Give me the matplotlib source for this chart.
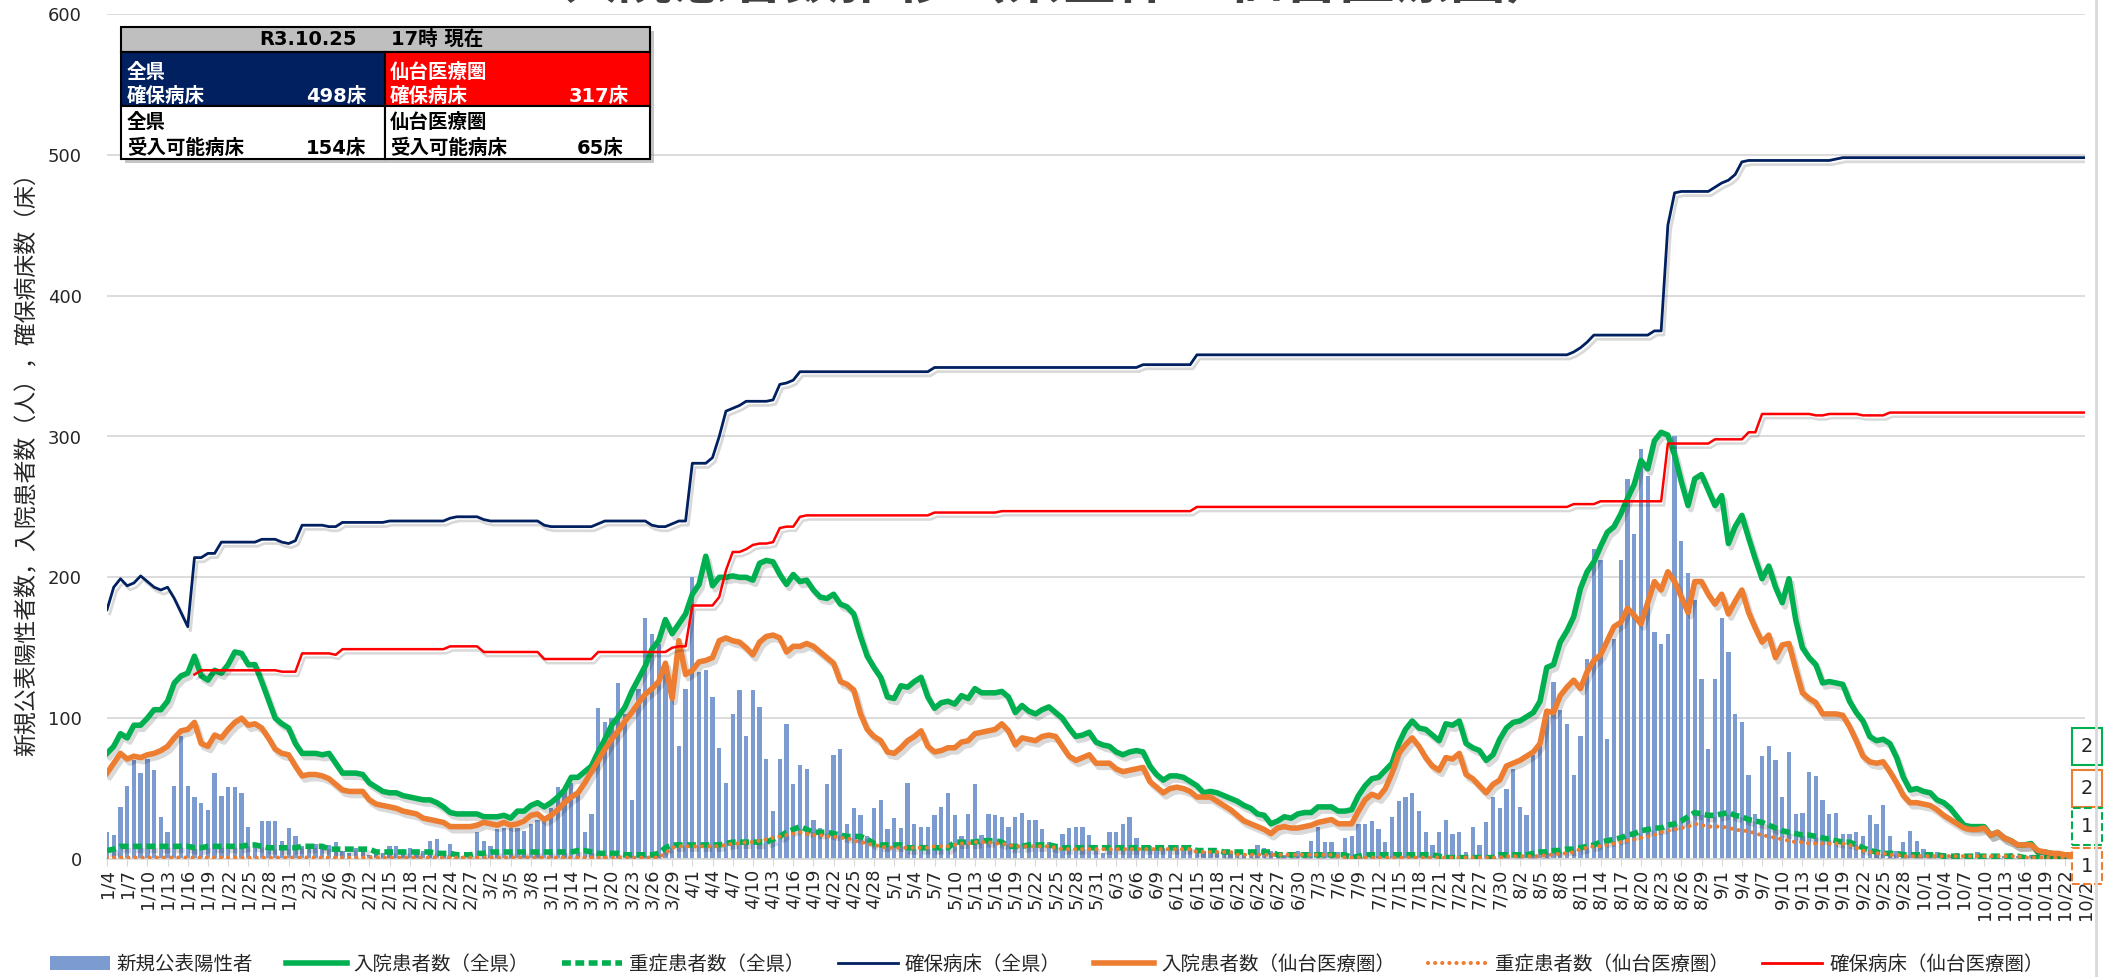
import numpy as np
import pandas as pd
import matplotlib
matplotlib.use("Agg")
import matplotlib.pyplot as plt
import matplotlib.patheffects as pe
from matplotlib.patches import Rectangle, Patch
from matplotlib.lines import Line2D

plt.rcParams['font.family'] = ['DejaVu Sans', 'Noto Sans CJK JP']
JP = ['Noto Sans CJK JP', 'DejaVu Sans']
MIX = ['DejaVu Sans', 'Noto Sans CJK JP']

# ---- data (daily, 2021/1/4 - 2021/10/25) ----
dates = pd.date_range('2021-01-04', '2021-10-25', freq='D')

new_cases = [
    19, 17, 37, 52, 70, 61, 71, 63, 30, 19,
    52, 87, 52, 44, 40, 35, 61, 45, 51, 51,
    47, 23, 11, 27, 27, 27, 13, 22, 16, 9,
    8, 11, 10, 10, 12, 6, 4, 8, 6, 3,
    5, 4, 9, 9, 5, 8, 4, 6, 13, 14,
    6, 11, 3, 2, 2, 19, 13, 9, 21, 22,
    22, 22, 20, 25, 28, 29, 36, 51, 49, 54,
    47, 19, 32, 107, 97, 100, 125, 103, 42, 121,
    171, 160, 153, 136, 115, 80, 121, 200, 133, 134,
    115, 79, 54, 103, 120, 87, 120, 108, 71, 34,
    71, 96, 53, 67, 64, 28, 22, 53, 74, 78,
    25, 36, 31, 16, 36, 42, 21, 29, 22, 54,
    25, 23, 23, 31, 37, 47, 31, 16, 32, 53,
    17, 32, 31, 30, 23, 30, 33, 28, 28, 21,
    12, 9, 18, 22, 23, 23, 17, 10, 4, 19,
    19, 25, 30, 15, 10, 9, 8, 8, 10, 10,
    10, 8, 6, 6, 5, 4, 5, 4, 4, 3,
    4, 10, 8, 6, 3, 3, 5, 6, 4, 13,
    23, 12, 12, 5, 15, 16, 25, 25, 27, 21,
    12, 30, 41, 44, 47, 34, 19, 10, 19, 28,
    18, 19, 5, 23, 10, 26, 44, 36, 50, 64,
    37, 31, 74, 80, 103, 126, 106, 96, 60, 87,
    142, 220, 212, 85, 156, 212, 270, 231, 291, 272,
    161, 153, 160, 300, 226, 203, 184, 128, 78, 128,
    171, 147, 103, 97, 60, 32, 73, 80, 70, 44,
    76, 32, 33, 62, 59, 42, 32, 33, 18, 18,
    19, 16, 31, 25, 38, 16, 6, 12, 20, 13,
    7, 4, 5, 4, 3, 4, 3, 2, 5, 3,
    2, 3, 2, 4, 2, 2, 3, 2, 1, 2,
    2, 1, 3, 1, 5,
]

inpatients_pref = [
    75, 80, 89, 86, 95, 95, 100, 106, 106, 112,
    125, 130, 132, 144, 130, 127, 134, 132, 138, 147,
    146, 138, 138, 126, 113, 100, 96, 93, 82, 75,
    75, 75, 74, 75, 68, 61, 61, 61, 60, 54,
    51, 48, 47, 47, 45, 44, 43, 42, 42, 40,
    37, 33, 32, 32, 32, 32, 30, 30, 30, 31,
    29, 34, 34, 38, 40, 37, 40, 44, 49, 58,
    58, 62, 66, 76, 85, 95, 101, 108, 119, 128,
    137, 149, 155, 170, 160, 167, 174, 188, 195, 215,
    194, 200, 200, 201, 200, 200, 198, 210, 212, 211,
    202, 195, 202, 197, 198, 191, 186, 185, 188, 181,
    179, 174, 158, 144, 136, 129, 115, 114, 123, 122,
    126, 129, 115, 107, 111, 112, 110, 116, 114, 121,
    118, 118, 118, 119, 115, 104, 109, 105, 103, 106,
    108, 104, 100, 93, 87, 88, 90, 83, 81, 80,
    76, 74, 76, 77, 76, 66, 60, 56, 59, 59,
    58, 55, 52, 47, 48, 47, 45, 43, 41, 38,
    36, 32, 31, 25, 27, 30, 29, 32, 33, 33,
    37, 37, 37, 34, 34, 35, 45, 52, 57, 58,
    63, 68, 82, 92, 98, 93, 92, 88, 84, 96,
    95, 98, 82, 79, 77, 70, 74, 85, 93, 97,
    98, 101, 104, 112, 136, 138, 154, 162, 172, 192,
    204, 211, 222, 232, 236, 245, 256, 266, 283, 277,
    297, 303, 301, 287, 268, 251, 270, 273, 262, 251,
    258, 224, 236, 244, 228, 213, 199, 208, 193, 182,
    199, 170, 150, 143, 138, 125, 126, 125, 124, 112,
    104, 98, 87, 84, 85, 82, 72, 58, 49, 50,
    48, 47, 42, 40, 36, 30, 24, 23, 23, 23,
    17, 19, 15, 13, 10, 10, 11, 5, 5, 4,
    3, 3, 3, 2, 2,
]

severe_pref = [
    6, 7, 9, 9, 9, 9, 9, 9, 9, 9,
    9, 9, 9, 8, 8, 9, 9, 9, 9, 9,
    9, 10, 10, 9, 8, 8, 8, 8, 8, 9,
    9, 9, 9, 7, 7, 7, 7, 7, 7, 7,
    5, 5, 5, 5, 5, 5, 5, 5, 5, 4,
    4, 4, 3, 3, 3, 4, 4, 5, 5, 5,
    5, 5, 5, 5, 5, 5, 5, 5, 5, 5,
    6, 6, 5, 4, 4, 4, 4, 3, 3, 3,
    3, 3, 4, 8, 10, 10, 10, 10, 10, 10,
    10, 10, 11, 12, 12, 12, 12, 12, 12, 14,
    16, 19, 21, 23, 21, 19, 19, 19, 18, 17,
    16, 16, 16, 14, 11, 10, 10, 10, 10, 8,
    8, 8, 8, 8, 8, 8, 12, 12, 12, 12,
    13, 13, 13, 12, 9, 9, 9, 10, 10, 10,
    10, 9, 8, 8, 8, 8, 8, 8, 8, 8,
    8, 8, 8, 8, 8, 8, 8, 8, 8, 8,
    8, 8, 6, 6, 6, 6, 5, 5, 5, 5,
    5, 5, 5, 5, 3, 3, 3, 3, 3, 3,
    3, 3, 3, 3, 3, 1, 2, 3, 3, 3,
    3, 3, 3, 3, 3, 3, 3, 3, 2, 1,
    1, 1, 1, 1, 1, 1, 1, 3, 3, 3,
    3, 3, 4, 5, 5, 6, 6, 7, 7, 8,
    9, 10, 12, 13, 14, 15, 17, 18, 20, 21,
    22, 22, 24, 25, 27, 30, 33, 32, 31, 31,
    32, 33, 31, 30, 28, 27, 26, 24, 22, 20,
    19, 18, 17, 17, 16, 15, 14, 13, 12, 12,
    10, 8, 6, 5, 4, 4, 4, 3, 3, 3,
    3, 3, 3, 2, 2, 2, 2, 2, 2, 2,
    2, 2, 2, 2, 2, 1, 1, 1, 1, 1,
    1, 1, 1, 1, 1,
]

inpatients_sendai = [
    61, 68, 75, 71, 73, 72, 74, 75, 77, 80,
    86, 91, 92, 97, 82, 80, 88, 86, 92, 97,
    100, 95, 96, 93, 86, 78, 75, 74, 66, 59,
    60, 60, 59, 57, 53, 49, 48, 48, 48, 42,
    39, 38, 37, 36, 34, 33, 32, 29, 28, 27,
    26, 23, 23, 23, 23, 24, 26, 25, 24, 26,
    24, 25, 27, 31, 32, 28, 31, 35, 40, 44,
    47, 54, 62, 70, 78, 85, 91, 98, 104, 111,
    117, 121, 126, 139, 114, 155, 131, 134, 140, 141,
    143, 155, 157, 155, 154, 150, 145, 154, 158, 159,
    157, 147, 151, 151, 153, 151, 147, 143, 139, 126,
    124, 120, 103, 92, 87, 84, 76, 75, 79, 84,
    87, 91, 80, 76, 77, 79, 79, 83, 84, 89,
    90, 91, 92, 96, 91, 81, 86, 85, 84, 87,
    88, 87, 80, 73, 70, 72, 74, 68, 68, 68,
    64, 62, 63, 64, 65, 55, 51, 47, 50, 51,
    50, 48, 44, 44, 44, 41, 38, 35, 31, 27,
    25, 23, 21, 18, 22, 23, 22, 22, 23, 24,
    26, 27, 28, 25, 25, 25, 34, 42, 46, 44,
    50, 61, 75, 81, 86, 80, 72, 66, 63, 72,
    71, 75, 60, 57, 52, 47, 53, 56, 66, 68,
    70, 73, 76, 82, 105, 104, 116, 122, 127, 121,
    133, 141, 145, 155, 165, 168, 178, 173, 167, 182,
    197, 191, 204, 197, 186, 175, 197, 197, 188, 181,
    188, 174, 183, 191, 175, 164, 154, 159, 143, 152,
    153, 135, 118, 114, 111, 103, 103, 103, 102, 94,
    84, 73, 69, 68, 69, 62, 54, 45, 40, 40,
    39, 38, 35, 31, 28, 25, 22, 21, 21, 22,
    17, 19, 15, 13, 10, 10, 10, 6, 5, 4,
    4, 3, 3, 2, 2,
]

severe_sendai = [
    1, 1, 1, 1, 1, 1, 1, 1, 1, 1,
    1, 1, 1, 1, 1, 1, 1, 1, 1, 1,
    1, 1, 1, 1, 1, 1, 1, 1, 1, 1,
    1, 1, 1, 1, 1, 1, 1, 1, 1, 1,
    1, 1, 1, 1, 1, 1, 1, 1, 1, 1,
    1, 1, 1, 1, 1, 1, 1, 1, 1, 1,
    1, 1, 1, 1, 1, 1, 1, 1, 1, 1,
    1, 1, 1, 1, 1, 1, 1, 1, 1, 1,
    1, 1, 1, 4, 8, 9, 9, 9, 9, 9,
    9, 9, 10, 11, 11, 12, 12, 13, 14, 15,
    16, 17, 18, 19, 18, 17, 17, 16, 16, 15,
    15, 13, 12, 11, 10, 9, 8, 8, 8, 8,
    8, 8, 8, 9, 9, 9, 10, 11, 11, 12,
    12, 12, 11, 11, 10, 9, 9, 9, 9, 9,
    9, 8, 7, 7, 7, 7, 7, 7, 7, 7,
    7, 7, 7, 7, 7, 7, 7, 7, 7, 7,
    7, 7, 5, 5, 5, 5, 5, 5, 3, 3,
    3, 3, 3, 3, 3, 3, 3, 3, 3, 3,
    3, 3, 3, 2, 1, 1, 1, 1, 1, 1,
    1, 1, 1, 1, 1, 1, 1, 1, 1, 1,
    1, 1, 1, 1, 1, 1, 1, 1, 2, 2,
    2, 2, 2, 2, 3, 3, 4, 4, 5, 7,
    8, 9, 9, 10, 11, 12, 13, 14, 15, 16,
    17, 19, 20, 21, 22, 23, 25, 24, 23, 23,
    23, 22, 21, 20, 20, 18, 17, 16, 15, 14,
    13, 12, 12, 11, 11, 11, 11, 11, 11, 10,
    8, 6, 5, 4, 4, 3, 3, 2, 2, 2,
    2, 2, 2, 2, 2, 2, 2, 2, 2, 2,
    2, 2, 2, 2, 2, 1, 1, 1, 1, 1,
    1, 1, 1, 1, 1,
]

# secured beds: (value, number of days)
beds_pref_runs = [
    (177, 1), (193, 1), (199, 1), (194, 1), (196, 1), (201, 1), (197, 1), (193, 1),
    (191, 1), (193, 1), (185, 1), (175, 1), (165, 1), (214, 2), (217, 2), (225, 6),
    (227, 3), (225, 1), (224, 1), (226, 1), (237, 4), (236, 2), (239, 7), (240, 9),
    (242, 1), (243, 4), (241, 1), (240, 8), (237, 1), (236, 7), (238, 1), (240, 7),
    (237, 1), (236, 2), (238, 1), (240, 2), (281, 3), (285, 1), (300, 1), (318, 1),
    (320, 1), (322, 1), (325, 4), (326, 1), (337, 1), (338, 1), (340, 1), (346, 20),
    (349, 31), (351, 8), (358, 56), (360, 1), (363, 1), (367, 1), (372, 9), (375, 2),
    (450, 1), (473, 1), (474, 5), (477, 1), (480, 1), (482, 1), (486, 1), (495, 1),
    (496, 13), (497, 1), (498, 37),
]
beds_sendai_runs = [
    (np.nan, 13), (131, 1), (134, 12), (133, 3), (146, 5), (145, 1), (149, 16),
    (151, 5), (147, 9), (142, 8), (147, 11), (150, 1), (151, 2), (180, 4), (186, 1),
    (205, 1), (218, 2), (220, 1), (223, 1), (224, 2), (225, 1), (235, 1), (236, 2),
    (243, 1), (244, 19), (246, 10), (247, 29), (250, 56), (252, 4), (254, 10),
    (295, 7), (298, 5), (303, 2), (316, 8), (315, 2), (316, 5), (315, 4), (317, 30),
]

# summary box
report_date = 'R3.10.25'
report_time = '17時 現在'
secured_pref, secured_sendai = 498, 317
available_pref, available_sendai = 154, 65

title = '入院患者数推移（県全体・仙台医療圏）'
ylabel = '新規公表陽性者数，入院患者数（人），確保病床数（床）'
labels = ['新規公表陽性者', '入院患者数（全県）', '重症患者数（全県）', '確保病床（全県）',
          '入院患者数（仙台医療圏）', '重症患者数（仙台医療圏）', '確保病床（仙台医療圏）']


def expand(runs):
    out = []
    for v, n in runs:
        out += [v] * n
    return np.array(out, dtype=float)


beds_pref = expand(beds_pref_runs)
beds_sendai = expand(beds_sendai_runs)

n = len(dates)
for name, s in [('new', new_cases), ('inp', inpatients_pref), ('sev', severe_pref),
                ('inps', inpatients_sendai), ('sevs', severe_sendai),
                ('bp', beds_pref), ('bs', beds_sendai)]:
    if len(s) != n:
        raise SystemExit(f'{name}: {len(s)} != {n}')

x = np.arange(n)

GREEN = '#00B050'
ORANGE = '#ED7D31'
NAVY = '#002060'
RED = '#FF0000'
BAR = '#7C9BD0'
TXT = '#262626'

W, H = 2123, 977
fig = plt.figure(figsize=(W / 100, H / 100), dpi=100)
ax = fig.add_axes([107 / W, (H - 859) / H, (2085 - 107) / W, (859 - 14) / H])

shadow = lambda: [pe.SimpleLineShadow(offset=(2, -3), shadow_color='black', alpha=0.15), pe.Normal()]

ax.bar(x, new_cases, width=0.64, color=BAR, zorder=2)
ax.plot(x, inpatients_pref, color=GREEN, lw=4, zorder=3, path_effects=shadow())
ax.plot(x, severe_pref, color=GREEN, lw=4, dashes=(1.6, 0.8), dash_capstyle='butt', zorder=4,
        path_effects=shadow())
ax.plot(x, beds_pref, color=NAVY, lw=2, zorder=5, path_effects=shadow())
ax.plot(x, inpatients_sendai, color=ORANGE, lw=4, zorder=6, path_effects=shadow())
ax.plot(x, severe_sendai, color=ORANGE, lw=3, linestyle=(0, (0.01, 1.7)), dash_capstyle='round',
        zorder=7)
ax.plot(x, beds_sendai, color=RED, lw=1.8, zorder=8, path_effects=shadow())

ax.set_xlim(0, n - 1)
ax.set_ylim(0, 600)
ax.set_yticks(range(0, 601, 100))
ax.set_xticks(x[::3])
ax.set_xticklabels([f'{d.month}/{d.day}' for d in dates[::3]], rotation=90)
ax.tick_params(axis='x', length=5, color='#D9D9D9', pad=2, labelsize=13, labelcolor=TXT)
ax.tick_params(axis='y', length=0, pad=18, labelsize=13, labelcolor=TXT)
ax.yaxis.grid(True, color='#D9D9D9', lw=1.3)
ax.set_axisbelow(True)
for sp in ['left', 'right', 'top']:
    ax.spines[sp].set_visible(False)
ax.spines['bottom'].set_color('#D9D9D9')
ax.spines['bottom'].set_linewidth(1.3)

# end-of-series data labels
end_labels = [(inpatients_pref[-1], 80, GREEN, '-'), (inpatients_sendai[-1], 50, ORANGE, '-'),
              (severe_pref[-1], 23, GREEN, '--'), (severe_sendai[-1], -5, ORANGE, '--')]
for val, ypos, col, ls in end_labels:
    ax.text(n - 0.7, ypos, f'{val:g}', ha='center', va='center', fontsize=14, color=TXT,
            clip_on=False, zorder=10,
            bbox=dict(boxstyle='square,pad=0.45', fc='white', ec=col, lw=1.5, ls=ls))

fig.text(27 / W, 1 - 459 / H, ylabel, rotation=90, ha='center', va='center', fontsize=16.5,
         family=JP, color=TXT)
fig.text(0.5, 1 - 10 / H, title, ha='center', va='bottom', fontsize=40, fontweight='bold',
         family=JP, color='#404040')

handles = [
    Patch(facecolor=BAR),
    Line2D([], [], color=GREEN, lw=4),
    Line2D([], [], color=GREEN, lw=4, dashes=(1.6, 0.8), dash_capstyle='butt'),
    Line2D([], [], color=NAVY, lw=2),
    Line2D([], [], color=ORANGE, lw=4),
    Line2D([], [], color=ORANGE, lw=3, linestyle=(0, (0.01, 1.7)), dash_capstyle='round'),
    Line2D([], [], color=RED, lw=2),
]
fig.legend(handles, labels, loc='center', bbox_to_anchor=(0.493, 0.0133), ncol=7, frameon=False,
           prop={'family': JP, 'size': 14}, handlelength=3.1, handletextpad=0.35,
           columnspacing=1.7, labelcolor=TXT)

fig.add_artist(Line2D([2096 / W, 2096 / W], [0, 1], transform=fig.transFigure,
                      color='#D9D9D9', lw=2))

# summary table (pixel coordinates)
tab = fig.add_axes([0, 0, 1, 1], zorder=20)
tab.set_xlim(0, W)
tab.set_ylim(H, 0)
tab.axis('off')
L, M, R = 121, 385, 650
T, Y1, Y2, Y3 = 27, 52, 106, 159
tab.add_patch(Rectangle((L + 4, T + 4), R - L, Y3 - T, fc='#808080', alpha=0.45, ec='none'))
cells = [((L, T), R - L, Y1 - T, '#BFBFBF'),
         ((L, Y1), M - L, Y2 - Y1, NAVY), ((M, Y1), R - M, Y2 - Y1, RED),
         ((L, Y2), M - L, Y3 - Y2, 'white'), ((M, Y2), R - M, Y3 - Y2, 'white')]
for xy, w, h, fc in cells:
    tab.add_patch(Rectangle(xy, w, h, fc=fc, ec='black', lw=1.5))
tk = dict(fontsize=14, fontweight='bold', family=MIX, va='center')
tab.text(259, 39.5, report_date, color='black', **tk)
tab.text(391, 39.5, report_time, color='black', **tk)
tab.text(127, 72, '全県', color='white', **tk)
tab.text(127, 96, '確保病床', color='white', **tk)
tab.text(366, 96, f'{secured_pref}床', color='white', ha='right', **tk)
tab.text(390, 72, '仙台医療圏', color='white', **tk)
tab.text(390, 96, '確保病床', color='white', **tk)
tab.text(629, 96, f'{secured_sendai}床', color='white', ha='right', **tk)
tab.text(127, 123, '全県', color='black', **tk)
tab.text(127, 148, '受入可能病床', color='black', **tk)
tab.text(366, 148, f'{available_pref}床', color='black', ha='right', **tk)
tab.text(390, 123, '仙台医療圏', color='black', **tk)
tab.text(390, 148, '受入可能病床', color='black', **tk)
tab.text(623, 148, f'{available_sendai}床', color='black', ha='right', **tk)

fig.savefig('out.png', dpi=100)
